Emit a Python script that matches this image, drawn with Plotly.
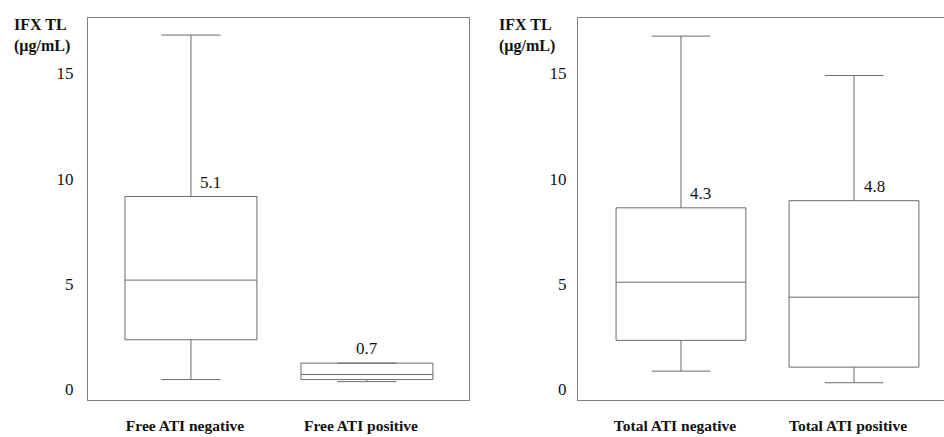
import plotly.graph_objects as go

# ---- data ----
free_cats = ["Free ATI negative", "Free ATI positive"]
free_lower = [0.47, 0.37]
free_q1 = [2.36, 0.47]
free_median = [5.19, 0.71]
free_q3 = [9.16, 1.25]
free_upper = [16.82, 1.25]
free_labels = ["5.1", "0.7"]

total_cats = ["Total ATI negative", "Total ATI positive"]
total_lower = [0.87, 0.32]
total_q1 = [2.33, 1.06]
total_median = [5.09, 4.38]
total_q3 = [8.62, 8.96]
total_upper = [16.77, 14.90]
total_labels = ["4.3", "4.8"]

y_ticks = [0, 5, 10, 15]
y_title = "IFX TL<br>(µg/mL)"

# ---- styling ----
SERIF = "Liberation Serif"
BOX_COLOR = "#6a6a6a"
FRAME_COLOR = "#808080"
TEXT_COLOR = "#111111"

fig = go.Figure()

panels = [
    (free_cats, free_lower, free_q1, free_median, free_q3, free_upper, free_labels, "x", "y"),
    (total_cats, total_lower, total_q1, total_median, total_q3, total_upper, total_labels, "x2", "y2"),
]

annotations = []
for cats, lo, q1, med, q3, up, labels, xa, ya in panels:
    fig.add_trace(go.Box(
        x=cats, q1=q1, median=med, q3=q3, lowerfence=lo, upperfence=up,
        width=0.75, whiskerwidth=0.45, fillcolor="white",
        line=dict(color=BOX_COLOR, width=1), boxpoints=False,
        xaxis=xa, yaxis=ya, showlegend=False, hoverinfo="skip",
    ))
    for c, lab, top, hi in zip(cats, labels, q3, up):
        has_whisker = hi > top
        annotations.append(dict(
            x=c, y=top + 0.68, xref=xa, yref=ya, text=lab, showarrow=False,
            xshift=20 if has_whisker else 0,
            font=dict(family=SERIF, size=17, color=TEXT_COLOR),
        ))

# y-axis titles (stacked bold text at top-left of each panel)
for xpos in [12 / 944, 497 / 944]:
    annotations.append(dict(
        x=xpos, y=1 - 14 / 437, xref="paper", yref="paper", text=y_title,
        showarrow=False, xanchor="left", yanchor="top", align="left",
        font=dict(family=SERIF, size=16, color=TEXT_COLOR, weight="bold"),
    ))

common_x = dict(
    type="category", showline=True, mirror=True, linecolor=FRAME_COLOR, linewidth=1,
    ticks="", showgrid=False, zeroline=False, ticklabelstandoff=11, automargin=False,
    ticklabelshift=-6,
    tickfont=dict(family=SERIF, size=15.5, color=TEXT_COLOR, weight="bold"),
    fixedrange=True,
)
common_y = dict(
    range=[-0.5, 17.63], tickvals=y_ticks, showline=True, mirror=True, automargin=False,
    linecolor=FRAME_COLOR, linewidth=1, ticks="", showgrid=False, zeroline=False,
    tickfont=dict(family=SERIF, size=17, color=TEXT_COLOR), fixedrange=True,
)
ydom = [37 / 437, 419 / 437]

fig.update_layout(
    width=944, height=437, margin=dict(l=0, r=0, t=0, b=0),
    paper_bgcolor="white", plot_bgcolor="white",
    xaxis=dict(common_x, domain=[88 / 944, 469 / 944], range=[-0.585, 1.58], anchor="y"),
    yaxis=dict(common_y, domain=ydom, anchor="x", ticklabelstandoff=10),
    xaxis2=dict(common_x, domain=[578 / 944, 1.0], range=[-0.595, 1.52], anchor="y2"),
    yaxis2=dict(common_y, domain=ydom, anchor="x2", ticklabelstandoff=7),
    annotations=annotations,
)

fig.write_html(
    "out.html",
    config={"displayModeBar": False},
    post_script="document.body.style.margin='0';",
)
